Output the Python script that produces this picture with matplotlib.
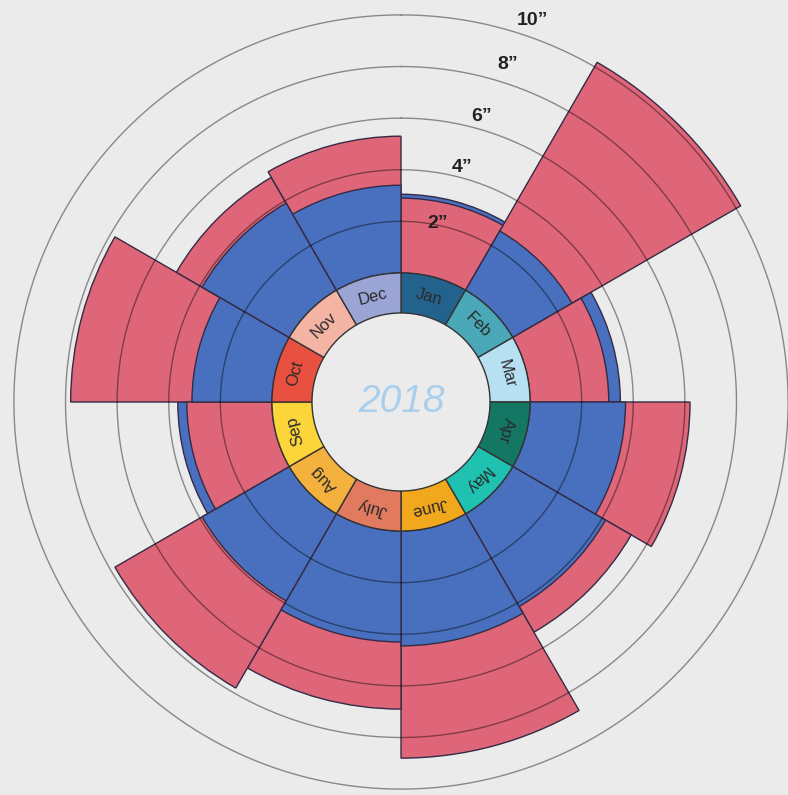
import numpy as np
import matplotlib.pyplot as plt

plt.rcParams['font.family'] = ['Liberation Sans', 'DejaVu Sans']

# monthly rainfall (inches): blue = normal, pink = 2018 actual
months = ['Jan', 'Feb', 'Mar', 'Apr', 'May', 'June', 'July', 'Aug', 'Sep', 'Oct', 'Nov', 'Dec']
normal = [3.05, 2.65, 3.5, 3.7, 4.15, 4.45, 4.3, 3.9, 3.65, 3.1, 3.9, 3.4]
actual = [2.9, 10.2, 3.05, 6.2, 5.3, 8.8, 6.9, 7.8, 3.3, 7.8, 5.05, 5.3]
ring_colors = ['#23628c', '#4aa8b8', '#b7e0f2', '#137763', '#1fc2b0', '#f2a81d',
               '#e27a5f', '#f5b13d', '#fbd53a', '#e8503f', '#f4b4a4', '#9aa5d6']
grid_levels = [2, 4, 6, 8, 10]
grid_labels = ['2”', '4”', '6”', '8”', '10”']

bg = '#ebebeb'
blue = '#4870be'
pink = '#de6678'
edge = '#352a45'

hole = 5.0      # bars start at the outer edge of the month ring
ring_w = 1.55

fig = plt.figure(figsize=(7.88, 7.95), dpi=100, facecolor=bg)
ax = fig.add_axes([1 / 788, -7 / 795, 800 / 788, 800 / 795], projection='polar')
ax.set_theta_zero_location('N')
ax.set_theta_direction(-1)
ax.set_facecolor('none')

theta = np.deg2rad(np.arange(12) * 30 + 15)
w = 2 * np.pi / 12

# bigger bar behind, smaller one in front
for i in range(12):
    pair = sorted([(actual[i], pink), (normal[i], blue)], reverse=True)
    for z, (v, c) in enumerate(pair):
        ax.bar(theta[i], v, width=w, bottom=hole, color=c, edgecolor=edge,
               linewidth=1, zorder=2 + z)

# grid circles
tt = np.linspace(0, 2 * np.pi, 500)
for lv in grid_levels:
    ax.plot(tt, np.full_like(tt, hole + lv), color='black', alpha=0.42, lw=1, zorder=5)

# month ring
ax.bar(theta, ring_w, width=w, bottom=hole - ring_w, color=ring_colors,
       edgecolor='#333333', linewidth=1, zorder=6)
for i, m in enumerate(months):
    ax.text(theta[i], hole - ring_w / 2, m, rotation=-np.rad2deg(theta[i]),
            rotation_mode='anchor', ha='center', va='center', fontsize=12,
            color='#2b2b2b', zorder=7)

# inch labels
lab_theta = np.deg2rad([11.5, 14.6, 15.8, 17.5, 19])
lab_off = [0.05, 0.4, 0.5, 0.7, 0.65]
for t, lv, off, s in zip(lab_theta, grid_levels, lab_off, grid_labels):
    ax.text(t, hole + lv + off, s, ha='center', va='center', fontsize=14,
            fontweight='bold', color='#222222', zorder=8)

ax.text(0.5, 0.5, '2018', transform=ax.transAxes, ha='center', va='center',
        fontsize=28, style='italic', color='#a9cfee', zorder=8)

ax.set_ylim(0, 15.5)
ax.set_xticks([])
ax.set_yticks([])
ax.grid(False)
ax.spines['polar'].set_visible(False)

fig.savefig('out.png', dpi=100, facecolor=bg)
